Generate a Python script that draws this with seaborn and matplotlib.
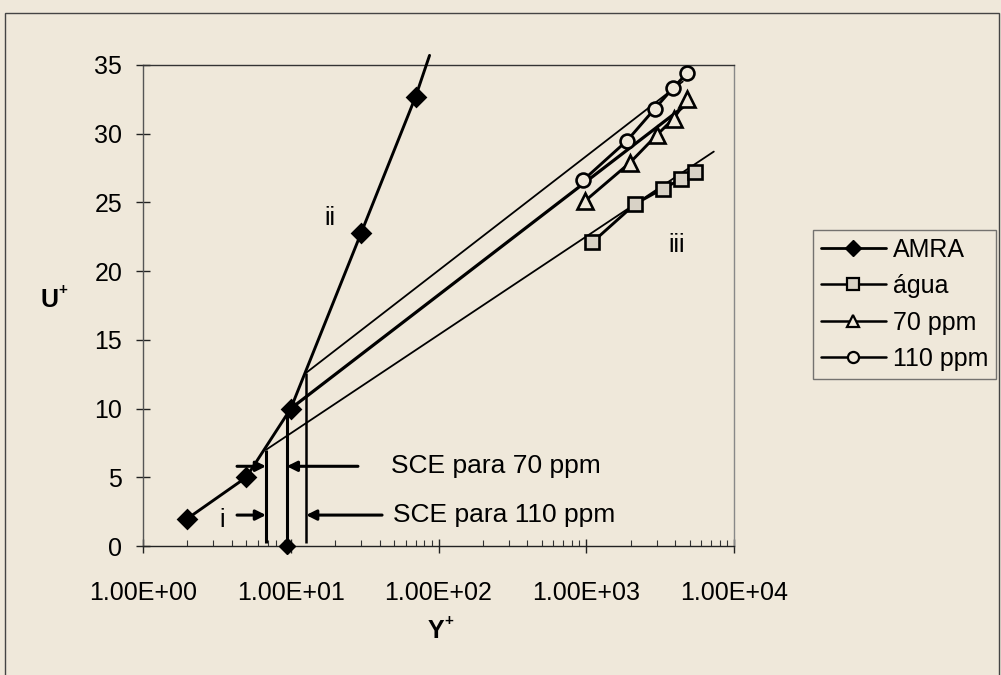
import matplotlib
matplotlib.use("Agg")
import matplotlib.pyplot as plt
import seaborn as sns
from matplotlib.patches import Rectangle
from matplotlib.lines import Line2D
from matplotlib.ticker import FixedLocator, LogLocator, NullFormatter, FuncFormatter

# ---- data -------------------------------------------------------------
# AMRA (maximum drag reduction asymptote) points
amra_y = [2.0, 5.0, 10.0, 30.0, 70.0]
amra_u = [2.0, 5.0, 10.0, 22.8, 32.7]
amra_ext_y = [70.0, 87.0]
amra_ext_u = [32.7, 35.7]

# measured profiles
agua_y = [1100, 2150, 3300, 4400, 5450]
agua_u = [22.1, 24.9, 26.0, 26.7, 27.2]
ppm70_y = [980, 1980, 3000, 3900, 4800]
ppm70_u = [25.1, 27.9, 29.9, 31.1, 32.5]
ppm110_y = [950, 1890, 2900, 3850, 4800]
ppm110_u = [26.6, 29.5, 31.8, 33.3, 34.4]

# log-law fits
fit_agua_y = [6.8, 7300]
fit_agua_u = [7.0, 28.7]
fit70_y = [10.0, 5000]
fit70_u = [10.0, 32.3]
fit110_y = [12.7, 4500]
fit110_u = [12.6, 33.8]

# limits of the buffer layer (SCE)
sce_y = [6.8, 9.4, 12.7]
sce_top = [7.0, 9.9, 12.6]
sce70_u = 5.8
sce110_u = 2.25
arrow_left_start = 4.33
arrow70_start = 28.5
arrow110_start = 41.5

x_ticks = [1, 10, 100, 1000, 10000]
y_ticks = [0, 5, 10, 15, 20, 25, 30, 35]

# ---- style -------------------------------------------------------------
BG = "#efe8da"
sns.set_style("white")
plt.rcParams["font.family"] = ["Liberation Sans", "DejaVu Sans"]
plt.rcParams["axes.facecolor"] = BG
plt.rcParams["figure.facecolor"] = BG
for key in ["text.color", "axes.labelcolor", "xtick.color", "ytick.color",
            "xtick.labelcolor", "ytick.labelcolor"]:
    plt.rcParams[key] = "black"

fig = plt.figure(figsize=(10.01, 6.75), dpi=100)
ax = fig.add_axes([143 / 1001, 1 - 546 / 675, 591 / 1001, 481 / 675])
ax.set_facecolor(BG)
ax.set_xscale("log")
ax.set_xlim(1, 10000)
ax.set_ylim(0, 35)

# outer chart frame
fig.patches.append(Rectangle((5 / 1001, -0.01), 994 / 1001, 1 - 13 / 675 + 0.01,
                             transform=fig.transFigure, fill=False,
                             edgecolor="#444444", lw=1.0, zorder=0))

# fits (thin / thick straight lines)
ax.plot(fit_agua_y, fit_agua_u, color="k", lw=1.3, zorder=2)
ax.plot(fit70_y, fit70_u, color="k", lw=2.3, zorder=2)
ax.plot(fit110_y, fit110_u, color="k", lw=1.3, zorder=2)

# vertical SCE limits
for xv, top, w in zip(sce_y, sce_top, [2.2, 2.2, 1.8]):
    ax.plot([xv, xv], [top, 0.25], color="k", lw=w, zorder=2, solid_capstyle="butt")
ax.plot([sce_y[1]], [0], marker="D", color="k", ms=8, clip_on=False, zorder=5)

# measured series
common = dict(color="k", lw=2.1, markeredgecolor="k", markeredgewidth=1.9, zorder=4)
sns.lineplot(x=amra_y, y=amra_u, ax=ax, marker="D", markersize=9,
             markerfacecolor="k", **common)
ax.plot(amra_ext_y, amra_ext_u, color="k", lw=2.1, clip_on=False, zorder=4)
sns.lineplot(x=agua_y, y=agua_u, ax=ax, marker="s", markersize=10,
             markerfacecolor="#d8d2c6", **common)
sns.lineplot(x=ppm70_y, y=ppm70_u, ax=ax, marker="^", markersize=11,
             markerfacecolor=BG, **common)
sns.lineplot(x=ppm110_y, y=ppm110_u, ax=ax, marker="o", markersize=10,
             markerfacecolor=BG, **common)

# SCE arrows
arrow_kw = dict(arrowstyle="-|>", color="k", lw=2.2, mutation_scale=15,
                shrinkA=0, shrinkB=0)
for u, start in [(sce70_u, arrow70_start), (sce110_u, arrow110_start)]:
    ax.annotate("", xy=(sce_y[0], u), xytext=(arrow_left_start, u),
                arrowprops=arrow_kw)
ax.annotate("", xy=(sce_y[1], sce70_u), xytext=(arrow70_start, sce70_u),
            arrowprops=arrow_kw)
ax.annotate("", xy=(sce_y[2], sce110_u), xytext=(arrow110_start, sce110_u),
            arrowprops=arrow_kw)
ax.text(47.7, sce70_u, "SCE para 70 ppm", fontsize=19, va="center", ha="left")
ax.text(49.0, sce110_u, "SCE para 110 ppm", fontsize=19, va="center", ha="left")

# region labels
ax.text(3.42, 1.9, "i", fontsize=18, ha="center", va="center")
ax.text(18.4, 23.9, "ii", fontsize=18, ha="center", va="center")
ax.text(4110, 21.9, "iii", fontsize=18, ha="center", va="center")

# axes and ticks
ax.set_xlabel("")
ax.set_ylabel("")
ax.xaxis.set_major_locator(FixedLocator(x_ticks))
ax.xaxis.set_major_formatter(FuncFormatter(lambda v, p: f"{v:.2E}"))
ax.xaxis.set_minor_locator(LogLocator(base=10, subs=range(2, 10)))
ax.xaxis.set_minor_formatter(NullFormatter())
ax.yaxis.set_major_locator(FixedLocator(y_ticks))
ax.tick_params(axis="both", which="major", direction="inout", length=10,
               width=1.0, color="#222222", labelsize=18, labelcolor="black")
ax.tick_params(axis="x", which="major", pad=20)
ax.tick_params(axis="y", which="major", pad=10, left=True)
ax.tick_params(axis="x", which="minor", direction="in", length=4, width=0.8,
               color="#333333", bottom=True)
ax.tick_params(axis="x", which="major", bottom=True)
for side, col in [("left", "#555555"), ("bottom", "#222222"),
                  ("top", "#333333"), ("right", "#888888")]:
    ax.spines[side].set_visible(True)
    ax.spines[side].set_color(col)
    ax.spines[side].set_linewidth(1.0)

# axis titles with superscript plus
fig.text(49 / 1001, 1 - 300 / 675, "U", fontsize=18, fontweight="bold",
         ha="center", va="center")
fig.text(63 / 1001, 1 - 290 / 675, "+", fontsize=11, fontweight="bold",
         ha="center", va="center")
fig.text(436 / 1001, 1 - 631 / 675, "Y", fontsize=18, fontweight="bold",
         ha="center", va="center")
fig.text(449 / 1001, 1 - 621 / 675, "+", fontsize=11, fontweight="bold",
         ha="center", va="center")

# legend
handles = [
    Line2D([], [], color="k", lw=2.0, marker="D", ms=8, mfc="k", mec="k"),
    Line2D([], [], color="k", lw=1.8, marker="s", ms=8, mfc="#d8d2c6", mec="k", mew=1.6),
    Line2D([], [], color="k", lw=1.8, marker="^", ms=8, mfc=BG, mec="k", mew=1.6),
    Line2D([], [], color="k", lw=1.8, marker="o", ms=8, mfc=BG, mec="k", mew=1.6),
]
labels = ["AMRA", "água", "70 ppm", "110 ppm"]
leg = fig.legend(handles, labels, loc="upper left",
                 bbox_to_anchor=(813 / 1001, 1 - 230 / 675),
                 bbox_transform=fig.transFigure, fontsize=18, frameon=True,
                 fancybox=False, shadow=False, handlelength=2.6,
                 handletextpad=0.3, labelspacing=0.5, borderpad=0.3,
                 borderaxespad=0)
leg.get_frame().set_facecolor(BG)
leg.get_frame().set_edgecolor("#555555")
leg.get_frame().set_linewidth(1.0)

fig.savefig("out.png", dpi=100, facecolor=BG)
